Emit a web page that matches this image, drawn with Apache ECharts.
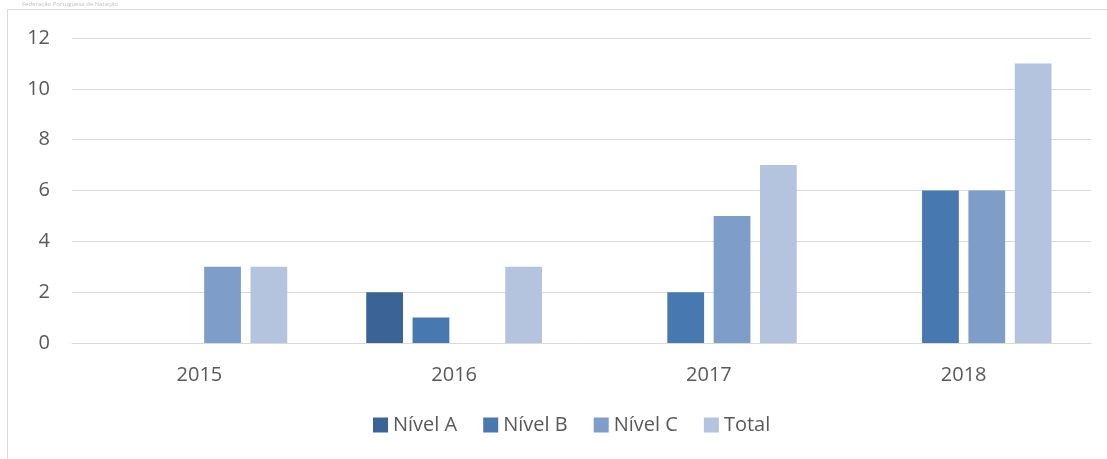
<!DOCTYPE html>
<html>
<head>
<meta charset="utf-8">
<script src="https://cdn.jsdelivr.net/npm/echarts@6/dist/echarts.min.js"></script>
<style>
  html, body { margin: 0; padding: 0; background: #fff; }
  #chart { width: 1107px; height: 459px; }
</style>
</head>
<body>
<div id="chart"></div>
<script>
// ── Data ────────────────────────────────────────────────────────────────
const years = ['2015', '2016', '2017', '2018'];
const nivelA = [0, 2, 0, 0];
const nivelB = [0, 1, 2, 6];
const nivelC = [3, 0, 5, 6];
const total = [3, 3, 7, 11];
const seriesNames = ['Nível A', 'Nível B', 'Nível C', 'Total'];
const sourceText = 'Federação Portuguesa de Natação';

// ── Style ───────────────────────────────────────────────────────────────
const COLORS = ['#3A6496', '#4878B0', '#7F9DC9', '#B4C4DE'];
const FONT = '"Open Sans", "Noto Sans", sans-serif';

// zero values are not drawn as bars at all in the reference
const hideZero = (arr) => arr.map((v) => (v === 0 ? null : v));

const chart = echarts.init(document.getElementById('chart'), null, { renderer: 'canvas' });

chart.setOption({
  animation: false,
  color: COLORS,
  textStyle: { fontFamily: FONT },
  graphic: [
    {
      type: 'rect',
      shape: { x: 7.5, y: 9.5, width: 1120, height: 470 },
      style: { fill: 'none', stroke: '#D9D9D9', lineWidth: 1 },
      silent: true,
    },
    {
      type: 'text',
      left: 22,
      top: 1,
      style: { text: sourceText, fill: '#BFBFBF', fontSize: 6, fontFamily: FONT },
    },
  ],
  grid: { left: 72, right: 16, top: 38, bottom: 116 },
  legend: {
    data: seriesNames,
    bottom: 19,
    left: 368,
    icon: 'rect',
    itemWidth: 15,
    itemHeight: 15,
    itemGap: 26,
    textStyle: { color: '#595959', fontSize: 20, fontFamily: FONT },
  },
  xAxis: {
    type: 'category',
    data: years,
    axisTick: { show: false },
    axisLine: { lineStyle: { color: '#D9D9D9', width: 1 } },
    axisLabel: { color: '#595959', fontSize: 20, margin: 22, fontFamily: FONT },
  },
  yAxis: {
    type: 'value',
    min: 0,
    max: 12,
    interval: 2,
    axisLine: { show: false },
    axisTick: { show: false },
    splitLine: { lineStyle: { color: '#D9D9D9', width: 1 } },
    axisLabel: { color: '#595959', fontSize: 20, margin: 22, fontFamily: FONT },
  },
  series: [
    { name: seriesNames[0], type: 'bar', data: hideZero(nivelA), barGap: '26%', barCategoryGap: '31%' },
    { name: seriesNames[1], type: 'bar', data: hideZero(nivelB) },
    { name: seriesNames[2], type: 'bar', data: hideZero(nivelC) },
    { name: seriesNames[3], type: 'bar', data: hideZero(total) },
  ],
});
</script>
</body>
</html>
